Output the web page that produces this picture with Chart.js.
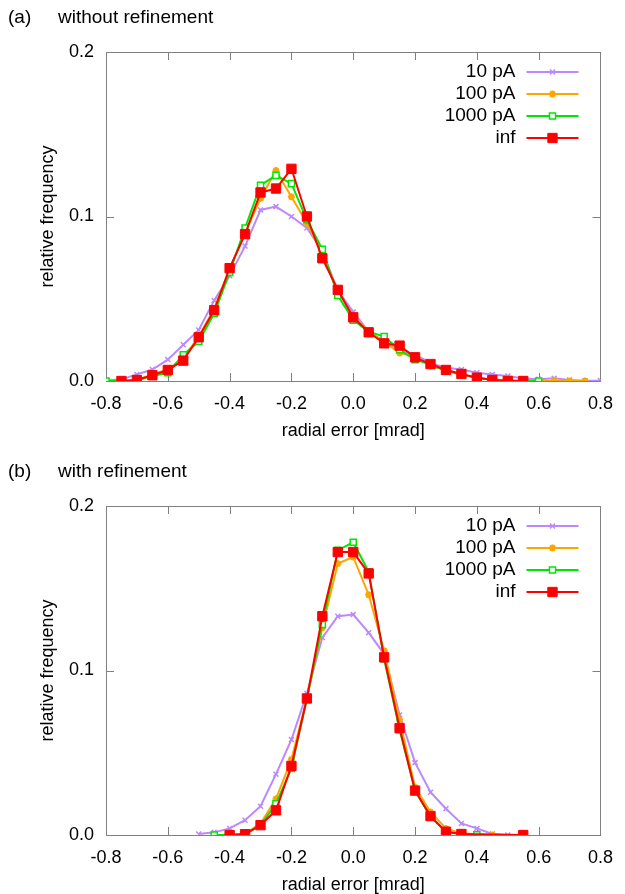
<!DOCTYPE html>
<html>
<head>
<meta charset="utf-8">
<script src="https://cdn.jsdelivr.net/npm/chart.js@4.4.1/dist/chart.umd.min.js"></script>
<style>
  html, body { margin: 0; padding: 0; background: #fff; overflow: hidden; }
  body { width: 625px; height: 894px; position: relative; font-family: "Liberation Sans", Arial, sans-serif; }
  .panel { position: absolute; left: 0; width: 625px; height: 450px; }
  .label { position: absolute; font-size: 19px; line-height: 19px; color: #000; z-index: 2; }
</style>
</head>
<body>
<div class="panel" style="top:0"><canvas id="chartA"></canvas></div>
<div class="panel" style="top:454px"><canvas id="chartB"></canvas></div>
<div class="label" style="left:8px;top:7px">(a)</div>
<div class="label" style="left:58px;top:7px">without refinement</div>
<div class="label" style="left:8px;top:461px">(b)</div>
<div class="label" style="left:58px;top:461px">with refinement</div>
<script>
// bin centres of the histograms [mrad]
const xGrid = [-0.8, -0.75, -0.7, -0.65, -0.6, -0.55, -0.5, -0.45, -0.4, -0.35, -0.3, -0.25,
  -0.2, -0.15, -0.1, -0.05, 0, 0.05, 0.1, 0.15, 0.2, 0.25, 0.3, 0.35, 0.4, 0.45, 0.5, 0.55,
  0.6, 0.65, 0.7, 0.75, 0.8];

const seriesLabels = ['10 pA', '100 pA', '1000 pA', 'inf'];
const xTicks = [-0.8, -0.6, -0.4, -0.2, 0, 0.2, 0.4, 0.6, 0.8];
const yTicks = [0, 0.1, 0.2];

// (a) without refinement
const a10 = [0.0003, 0.001, 0.004, 0.007, 0.013, 0.022, 0.031, 0.049, 0.064, 0.082, 0.104, 0.106,
  0.100, 0.093, 0.079, 0.055, 0.042, 0.030, 0.024, 0.019, 0.016, 0.011, 0.008, 0.007, 0.005, 0.004,
  0.003, 0.0015, 0.001, 0.0016, 0.0006, 0.0002, 0.0002];
const a100 = [0, 0, 0.0006, 0.004, 0.007, 0.014, 0.027, 0.044, 0.068, 0.090, 0.111, 0.128,
  0.112, 0.096, 0.077, 0.055, 0.039, 0.030, 0.024, 0.017, 0.015, 0.009, 0.007, 0.004, 0.002, 0.001,
  0.0005, 0.0003, 0.0002, 0.0001, 0, 0, null];
const a1000 = [0, 0, 0.0005, 0.003, 0.005, 0.016, 0.024, 0.041, 0.066, 0.093, 0.119, 0.125,
  0.120, 0.098, 0.080, 0.052, 0.037, 0.030, 0.027, 0.019, 0.013, 0.010, 0.006, 0.004, 0.002, 0.0008,
  0.0003, 0.0002, 0, null, null, null, null];
const aInf = [null, 0, 0.0006, 0.0035, 0.0067, 0.0124, 0.0266, 0.043, 0.0686, 0.0893, 0.1146, 0.117,
  0.129, 0.100, 0.0746, 0.0554, 0.0387, 0.0296, 0.0229, 0.0215, 0.0144, 0.0103, 0.0067, 0.0043, 0.002, 0.0006,
  0, 0, null, null, null, null, null];

// (b) with refinement
const b10 = [null, null, null, null, null, null, 0.0006, 0.0016, 0.004, 0.009, 0.0175, 0.037,
  0.058, 0.086, 0.120, 0.133, 0.134, 0.123, 0.110, 0.073, 0.044, 0.026, 0.016, 0.007, 0.004, 0.0006,
  0, null, null, null, null, null, null];
const b100 = [null, null, null, null, null, null, null, null, 0, 0.0008, 0.007, 0.022,
  0.046, 0.083, 0.126, 0.165, 0.169, 0.146, 0.112, 0.070, 0.029, 0.014, 0.004, 0.001, 0.0005, 0,
  null, null, null, null, null, null, null];
const b1000 = [null, null, null, null, null, null, null, 0, 0, 0.0007, 0.006, 0.019,
  0.0405, 0.083, 0.128, 0.173, 0.178, 0.160, 0.107, 0.064, 0.027, 0.011, 0.002, 0.0005, 0.0002, null,
  null, null, null, null, null, null, null];
const bInf = [null, null, null, null, null, null, null, null, 0, 0.0005, 0.006, 0.015,
  0.042, 0.083, 0.133, 0.172, 0.172, 0.159, 0.108, 0.065, 0.027, 0.0115, 0.002, 0.0006, null, null,
  null, 0, null, null, null, null, null];

Chart.defaults.font.family = '"Liberation Sans", Arial, sans-serif';
Chart.defaults.color = '#000';

// line / marker looks, one per series
const styles = [
  { color: '#bb88ff', pointStyle: 'crossRot', radius: 3.5, fill: '#bb88ff', pw: 1.5 },
  { color: '#ffa500', pointStyle: 'star', radius: 3.5, fill: '#ffa500', pw: 2 },
  { color: '#00e600', pointStyle: 'rect', radius: 4.3, fill: '#ffffff', pw: 1.5 },
  { color: '#ff0000', pointStyle: 'rect', radius: 6.6, fill: '#ff0000', pw: 1 }
];

function toPoints(vals) {
  return xGrid.map((x, i) => ({ x: x, y: vals[i] })).filter(p => p.y !== null);
}

// gnuplot-like border with inward tick marks
const frame = {
  id: 'frame',
  beforeDatasetsDraw(chart) {
    const { ctx, chartArea: a, scales: { x, y } } = chart;
    ctx.save();
    ctx.strokeStyle = '#808080';
    ctx.lineWidth = 1;
    ctx.strokeRect(Math.round(a.left) + 0.5, Math.round(a.top) + 0.5,
      Math.round(a.right - a.left), Math.round(a.bottom - a.top));
    ctx.beginPath();
    x.ticks.forEach(t => {
      const px = Math.round(x.getPixelForValue(t.value)) + 0.5;
      ctx.moveTo(px, a.bottom); ctx.lineTo(px, a.bottom - 8);
      ctx.moveTo(px, a.top); ctx.lineTo(px, a.top + 8);
    });
    y.ticks.forEach(t => {
      const py = Math.round(y.getPixelForValue(t.value)) + 0.5;
      ctx.moveTo(a.left, py); ctx.lineTo(a.left + 8, py);
      ctx.moveTo(a.right, py); ctx.lineTo(a.right - 8, py);
    });
    ctx.stroke();
    ctx.restore();
  }
};

// key in the top right corner, text right aligned, sample on the right
const keyBox = {
  id: 'keyBox',
  afterDatasetsDraw(chart) {
    const { ctx, chartArea: a } = chart;
    ctx.save();
    ctx.font = '19px "Liberation Sans", Arial, sans-serif';
    ctx.textAlign = 'right';
    ctx.textBaseline = 'middle';
    chart.data.datasets.forEach((ds, i) => {
      const yy = a.top + 20 + i * 22;
      ctx.fillStyle = '#000';
      ctx.fillText(ds.label, a.right - 85, yy);
      ctx.strokeStyle = ds.borderColor;
      ctx.lineWidth = ds.borderWidth;
      ctx.beginPath();
      ctx.moveTo(a.right - 74, yy);
      ctx.lineTo(a.right - 22, yy);
      ctx.stroke();
      ctx.fillStyle = ds.pointBackgroundColor;
      ctx.lineWidth = ds.pointBorderWidth;
      Chart.helpers.drawPoint(ctx, {
        pointStyle: ds.pointStyle, radius: ds.pointRadius, rotation: 0, borderWidth: ds.pointBorderWidth
      }, a.right - 48, yy);
    });
    ctx.restore();
  }
};

function makePanel(id, seriesVals) {
  const datasets = seriesVals.map((vals, i) => ({
    label: seriesLabels[i],
    data: toPoints(vals),
    borderColor: styles[i].color,
    borderWidth: 2,
    pointStyle: styles[i].pointStyle,
    pointRadius: styles[i].radius,
    pointBorderWidth: styles[i].pw,
    pointBorderColor: styles[i].color,
    pointBackgroundColor: styles[i].fill,
    tension: 0,
    order: seriesVals.length - i
  }));

  new Chart(document.getElementById(id), {
    type: 'line',
    data: { datasets: datasets },
    options: {
      responsive: true,
      maintainAspectRatio: false,
      animation: false,
      layout: { padding: { top: 52, right: 16, bottom: 8, left: 0 } },
      plugins: { legend: { display: false }, tooltip: { enabled: false } },
      scales: {
        x: {
          type: 'linear',
          min: -0.8,
          max: 0.8,
          afterBuildTicks: s => { s.ticks = xTicks.map(v => ({ value: v })); },
          afterFit: s => { s.height = 61; },
          grid: { display: false, drawTicks: false },
          border: { display: false },
          ticks: { padding: 12, maxRotation: 0, font: { size: 18 }, callback: v => v.toFixed(1) },
          title: { display: true, text: 'radial error [mrad]', font: { size: 18 }, padding: { top: 0, bottom: 0 } }
        },
        y: {
          min: 0,
          max: 0.2,
          afterBuildTicks: s => { s.ticks = yTicks.map(v => ({ value: v })); },
          afterFit: s => { s.width = 106; },
          grid: { display: false, drawTicks: false },
          border: { display: false },
          ticks: { padding: 12, font: { size: 18 }, callback: v => v.toFixed(1) },
          title: { display: true, text: 'relative frequency', font: { size: 18 }, padding: { top: 37, bottom: 0 } }
        }
      }
    },
    plugins: [frame, keyBox]
  });
}

makePanel('chartA', [a10, a100, a1000, aInf]);
makePanel('chartB', [b10, b100, b1000, bInf]);
</script>
</body>
</html>
